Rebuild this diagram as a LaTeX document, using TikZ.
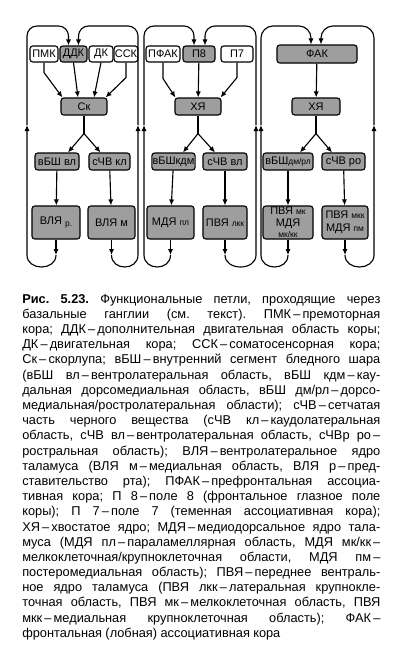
\documentclass[tikz,border=0pt]{standalone}
\usepackage{fontspec}
\setmainfont{Liberation Sans}
\usetikzlibrary{arrows.meta,calc}
\definecolor{boxgray}{RGB}{158,158,158}
\newcommand{\qual}[1]{{\fontsize{6}{6.6}\selectfont #1}}
\newlength{\capw}
\setlength{\capw}{8.95cm}
\newcommand{\capspacing}{\frenchspacing\spaceskip=0.26em plus 1em minus 0.08em\relax}
\newcommand{\capline}[1]{\makebox[\capw][s]{#1}\\}

\begin{document}
\begin{tikzpicture}[x=0.025cm, y=-0.025cm,
    box/.style={rectangle, draw, line width=0.8pt, fill=white, rounded corners=2pt,
        font=\fontsize{7.8}{8}\selectfont, inner sep=0.5pt, align=center},
    boxg/.style={box, fill=boxgray},
    line/.style={line width=0.8pt},
    arr/.style={-{Latex[length=1.5mm,width=1.3mm]}, line width=0.8pt},
    captext/.style={anchor=north west, inner sep=0pt, text width=8.95cm, align=left,
        font=\fontsize{9.1}{10.8}\selectfont}
]
    \useasboundingbox (0,0) rectangle (400,646);
    \fill[white] (0,0) rectangle (400,646);

    % === Loop 1: motor ===
    \node[box, minimum width=0.7cm, minimum height=0.4cm] (pmk) at (44,54) {ПМК};
    \node[boxg, minimum width=0.675cm, minimum height=0.4cm] (ddk) at (73.5,54) {ДДК};
    \node[box, minimum width=0.6cm, minimum height=0.4cm] (dk) at (101,54) {ДК};
    \node[box, minimum width=0.55cm, minimum height=0.4cm] (ssk) at (126,54) {ССК};
    \node[boxg, minimum width=1.15cm, minimum height=0.425cm] (sk) at (84,106.5) {Ск};
    \node[boxg, minimum width=1.1cm, minimum height=0.425cm] (vbsh1) at (57,161.5) {вБШ вл};
    \node[boxg, minimum width=1.025cm, minimum height=0.425cm] (schv1) at (109.5,161.5) {сЧВ кл};
    \node[boxg, minimum width=1.2cm, minimum height=0.825cm] (vlyar) at (56,222.5) {ВЛЯ \raisebox{-1.5pt}{\qual{р.}}};
    \node[boxg, minimum width=1.175cm, minimum height=0.825cm] (vlyam) at (111.5,222.5) {ВЛЯ м};

    % === Loop 2: oculomotor ===
    \node[box, minimum width=0.85cm, minimum height=0.4cm] (pfak) at (163,54) {ПФАК};
    \node[boxg, minimum width=0.8cm, minimum height=0.4cm] (p8) at (199,54) {П8};
    \node[box, minimum width=0.8cm, minimum height=0.4cm] (p7) at (237,54) {П7};
    \node[boxg, minimum width=1.15cm, minimum height=0.425cm] (xya1) at (198,106.5) {ХЯ};
    \node[boxg, minimum width=1.075cm, minimum height=0.425cm] (vbsh2) at (173.5,161.5) {вБШкдм};
    \node[boxg, minimum width=1.1cm, minimum height=0.425cm] (schv2) at (225,161.5) {сЧВ вл};
    \node[boxg, minimum width=1.175cm, minimum height=0.825cm] (mdya) at (170.5,222.5) {МДЯ \qual{пл}};
    \node[boxg, minimum width=1.1cm, minimum height=0.825cm] (pvya) at (225,222.5) {ПВЯ \qual{лкк}};

    % === Loop 3: association ===
    \node[boxg, minimum width=2cm, minimum height=0.45cm] (fak) at (317,54) {ФАК};
    \node[boxg, minimum width=1.2cm, minimum height=0.425cm] (xya2) at (316,106.5) {ХЯ};
    \node[boxg, minimum width=1.25cm, minimum height=0.425cm] (vbsh3) at (288,161.5) {вБШ\qual{дм/рл}};
    \node[boxg, minimum width=1.075cm, minimum height=0.425cm] (schv3) at (343.5,161.5) {сЧВ ро};
    \node[boxg, minimum width=1.25cm, minimum height=0.825cm] (pvmd1) at (288,222.5) {ПВЯ \qual{мк}\\МДЯ\\\qual{мк/кк}};
    \node[boxg, minimum width=1.15cm, minimum height=0.825cm] (pvmd2) at (345,222.5) {ПВЯ \qual{мкк}\\[1pt]МДЯ \qual{пм}};

    % cortex -> striatum
    \draw[arr] (pmk.south) -- ++(0,10) -- ($(sk.north west)+(2,0)$);
    \draw[arr] (ddk.south) -- ($(sk.north)+(-6,0)$);
    \draw[arr] (dk.south) -- ($(sk.north)+(10,0)$);
    \draw[arr] (ssk.south) -- ++(0,15) -- ($(sk.north east)+(-2,0)$);
    \draw[arr] (pfak.south) -- ++(0,16) -- ($(xya1.north west)+(1,0)$);
    \draw[arr] (p8) -- (xya1);
    \draw[arr] (p7.south) -- ++(0,15) -- ($(xya1.north east)+(-1,0)$);
    \draw[arr] (fak) -- (xya2);

    % striatum -> pallidum / nigra
    \coordinate (br1) at ($(sk.south)+(0,18)$);
    \coordinate (br2) at ($(xya1.south)+(0,18)$);
    \coordinate (br3) at ($(xya2.south)+(0,18)$);
    \draw[line] (sk) -- (br1);
    \draw[arr] (br1) -- ($(vbsh1.north)+(11,0)$);
    \draw[arr] (br1) -- ($(schv1.north)+(-9,0)$);
    \draw[line] (xya1) -- (br2);
    \draw[arr] (br2) -- ($(vbsh2.north)+(9.5,0)$);
    \draw[arr] (br2) -- ($(schv2.north)+(-10,0)$);
    \draw[line] (xya2) -- (br3);
    \draw[arr] (br3) -- ($(vbsh3.north)+(12,0)$);
    \draw[arr] (br3) -- ($(schv3.north)+(-11.5,0)$);

    % pallidum / nigra -> thalamus
    \draw[arr] (vbsh1) -- (vlyar);
    \draw[arr] (schv1) -- (vlyam);
    \draw[arr] (vbsh2) -- (mdya);
    \draw[arr] (schv2) -- (pvya);
    \draw[arr] (vbsh3) -- (pvmd1);
    \draw[arr] (schv3) -- (pvmd2);

    % thalamus -> cortex (return loops)
    \coordinate (top) at (0,26);
    \coordinate (bot) at (0,255);
    \coordinate (v1) at (27,125);
    \coordinate (v2) at (138,125);
    \coordinate (v3) at (144,125);
    \coordinate (v4) at (256,125);
    \coordinate (v5) at (261,125);
    \coordinate (v6) at (374,125);

    \draw[arr] (vlyar) -- (vlyar |- bot);
    \draw[arr] (vlyar |- bot) .. controls +(0,16) and +(0,16) .. (v1 |- bot) -- (v1);
    \draw[arr, rounded corners=0.25cm] (v1) -- (v1 |- top) -| ($(ddk.north)+(-5,0)$);
    \draw[arr] (vlyam) -- (vlyam |- bot);
    \draw[arr] (vlyam |- bot) .. controls +(0,16) and +(0,16) .. (v2 |- bot) -- (v2);
    \draw[arr, rounded corners=0.25cm] (v2) -- (v2 |- top) -| ($(ddk.north)+(5,0)$);

    \draw[arr] (mdya) -- (mdya |- bot);
    \draw[arr] (mdya |- bot) .. controls +(0,16) and +(0,16) .. (v3 |- bot) -- (v3);
    \draw[arr, rounded corners=0.25cm] (v3) -- (v3 |- top) -| ($(p8.north)+(-5,0)$);
    \draw[arr] (pvya) -- (pvya |- bot);
    \draw[arr] (pvya |- bot) .. controls +(0,16) and +(0,16) .. (v4 |- bot) -- (v4);
    \draw[arr, rounded corners=0.25cm] (v4) -- (v4 |- top) -| ($(p8.north)+(6,0)$);

    \draw[arr] (pvmd1) -- (pvmd1 |- bot);
    \draw[arr] (pvmd1 |- bot) .. controls +(0,16) and +(0,16) .. (v5 |- bot) -- (v5);
    \draw[arr, rounded corners=0.3cm] (v5) -- (v5 |- top) -| ($(fak.north)+(-6,0)$);
    \draw[arr] (pvmd2) -- (pvmd2 |- bot);
    \draw[arr] (pvmd2 |- bot) .. controls +(0,16) and +(0,16) .. (v6 |- bot) -- (v6);
    \draw[arr, rounded corners=0.3cm] (v6) -- (v6 |- top) -| ($(fak.north)+(4,0)$);

    % === Caption ===
    \node[captext] (caption) at (22,294) {\capspacing
        \capline{\textbf{Рис. 5.23.} Функциональные петли, проходящие через}
        \capline{базальные ганглии (см. текст). ПМК\,–\,премоторная}
        \capline{кора; ДДК\,–\,дополнительная двигательная область коры;}
        \capline{ДК\,–\,двигательная кора; ССК\,–\,соматосенсорная кора;}
        \capline{Ск\,–\,скорлупа; вБШ\,–\,внутренний сегмент бледного шара}
        \capline{(вБШ вл\,–\,вентролатеральная область, вБШ кдм\,–\,кау-}
        \capline{дальная дорсомедиальная область, вБШ дм/рл\,–\,дорсо-}
        \capline{медиальная/ростролатеральная области); сЧВ\,–\,сетчатая}
        \capline{часть черного вещества (сЧВ кл\,–\,каудолатеральная}
        \capline{область, сЧВ вл\,–\,вентролатеральная область, сЧВр ро\,–}
        \capline{ростральная область); ВЛЯ\,–\,вентролатеральное ядро}
        \capline{таламуса (ВЛЯ м\,–\,медиальная область, ВЛЯ р\,–\,пред-}
        \capline{ставительство рта); ПФАК\,–\,префронтальная ассоциа-}
        \capline{тивная кора; П 8\,–\,поле 8 (фронтальное глазное поле}
        \capline{коры); П 7\,–\,поле 7 (теменная ассоциативная кора);}
        \capline{ХЯ\,–\,хвостатое ядро; МДЯ\,–\,медиодорсальное ядро тала-}
        \capline{муса (МДЯ пл\,–\,параламеллярная область, МДЯ мк/кк\,–}
        \capline{мелкоклеточная/крупноклеточная области, МДЯ пм\,–}
        \capline{постеромедиальная область); ПВЯ\,–\,переднее вентраль-}
        \capline{ное ядро таламуса (ПВЯ лкк\,–\,латеральная крупнокле-}
        \capline{точная область, ПВЯ мк\,–\,мелкоклеточная область, ПВЯ}
        \capline{мкк\,–\,медиальная крупноклеточная область); ФАК\,–}
        фронтальная (лобная) ассоциативная кора};
\end{tikzpicture}
\end{document}
